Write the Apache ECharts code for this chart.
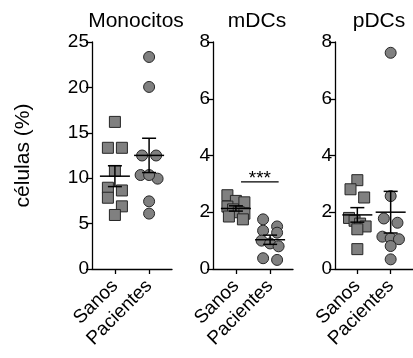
<!DOCTYPE html>
<html>
<head>
<meta charset="utf-8">
<script src="https://cdn.jsdelivr.net/npm/echarts@6/dist/echarts.min.js"></script>
<style>
html, body { margin: 0; padding: 0; background: #fff; }
#chart { width: 413px; height: 358px; }
</style>
</head>
<body>
<div id="chart"></div>
<script>
// 数据
const panelTitles = ['Monocitos', 'mDCs', 'pDCs'];
const groupNames = ['Sanos', 'Pacientes'];
const yMaxes = [25, 8, 8];
const ySteps = [5, 2, 2];

const monoSanos = [16.2, 13.35, 13.35, 10.8, 8.95, 8.65, 7.85, 6.9, 5.95];
const monoPacientes = [23.35, 20.05, 12.5, 12.5, 10.35, 9.95, 10.35, 7.45, 6.1];
const mdcSanos = [2.6, 2.4, 2.35, 2.2, 2.1, 2.0, 1.95, 1.85, 1.75];
const mdcPacientes = [1.75, 1.5, 1.35, 1.28, 1.0, 0.9, 0.8, 0.38, 0.32];
const pdcSanos = [3.13, 2.81, 2.52, 1.8, 1.7, 1.6, 1.5, 1.4, 0.7];
const pdcPacientes = [7.62, 2.57, 1.78, 1.63, 1.14, 1.08, 1.05, 0.81, 0.34];

const panelData = [
    [monoSanos, monoPacientes],
    [mdcSanos, mdcPacientes],
    [pdcSanos, pdcPacientes]
];

// 图形布局
const gridLefts = [92, 213, 335];
const gridTop = 42;
const gridH = 227;
const gridW = 80;
const xMin = 0.33, xMax = 2.67;
const dotSize = 11;
const font = 'Liberation Sans, Arial, sans-serif';

// 按行排列的散点（类似 Prism 的抖动），返回像素偏移
function rowOffsets(values, pxPerY) {
    const order = values.map((v, i) => i).sort((a, b) => values[b] - values[a]);
    const offs = new Array(values.length).fill(0);
    const rowH = 9;
    let row = [];
    const flush = () => {
        const n = row.length;
        const spacing = n <= 2 ? 14 : 17 / (n - 1);
        row.forEach((idx, j) => { offs[idx] = (j - (n - 1) / 2) * spacing; });
        row = [];
    };
    order.forEach(i => {
        if (row.length && (values[row[0]] - values[i]) * pxPerY > rowH) flush();
        row.push(i);
    });
    flush();
    return offs;
}

function meanSem(arr) {
    const n = arr.length;
    const m = arr.reduce((a, b) => a + b, 0) / n;
    const sd = Math.sqrt(arr.reduce((a, b) => a + (b - m) * (b - m), 0) / (n - 1));
    return [m, sd / Math.sqrt(n)];
}

function renderMean(params, api) {
    const x = api.value(0), m = api.value(1), s = api.value(2);
    const c = api.coord([x, m]);
    const t = api.coord([x, m + s]);
    const b = api.coord([x, m - s]);
    const st = { stroke: '#000', lineWidth: 1.5 };
    return {
        type: 'group',
        children: [
            { type: 'line', shape: { x1: c[0] - 15, y1: c[1], x2: c[0] + 15, y2: c[1] }, style: st },
            { type: 'line', shape: { x1: c[0], y1: t[1], x2: c[0], y2: b[1] }, style: st },
            { type: 'line', shape: { x1: c[0] - 7, y1: t[1], x2: c[0] + 7, y2: t[1] }, style: st },
            { type: 'line', shape: { x1: c[0] - 7, y1: b[1], x2: c[0] + 7, y2: b[1] }, style: st }
        ]
    };
}

function renderSig(params, api) {
    const a = api.coord([api.value(0), api.value(2)]);
    const b = api.coord([api.value(1), api.value(2)]);
    return {
        type: 'group',
        children: [
            { type: 'line', shape: { x1: a[0], y1: a[1], x2: b[0], y2: b[1] }, style: { stroke: '#000', lineWidth: 1.3 } },
            { type: 'text', style: { x: (a[0] + b[0]) / 2, y: a[1] + 6, text: '***', align: 'center', verticalAlign: 'bottom', fontSize: 19, fontFamily: font, fill: '#000' } }
        ]
    };
}

const grid = [], xAxis = [], yAxis = [], series = [], title = [];

panelData.forEach((groups, p) => {
    grid.push({ left: gridLefts[p], top: gridTop, width: gridW, height: gridH });
    title.push({
        text: panelTitles[p], left: gridLefts[p] + gridW / 2 - 1, top: 6, textAlign: 'center',
        textStyle: { fontSize: 21, fontWeight: 'normal', color: '#000', fontFamily: font }
    });
    xAxis.push({
        type: 'value', gridIndex: p, min: xMin, max: xMax,
        axisLine: { show: true, lineStyle: { color: '#000', width: 1.3 } },
        axisTick: { show: true, length: 5, customValues: [1, 2], lineStyle: { color: '#000', width: 1.3 } },
        axisLabel: {
            customValues: [1, 2], rotate: 45, margin: 14, fontSize: 19, color: '#000', fontFamily: font,
            formatter: v => groupNames[Math.round(v) - 1]
        },
        splitLine: { show: false }
    });
    yAxis.push({
        type: 'value', gridIndex: p, min: 0, max: yMaxes[p], interval: ySteps[p],
        name: p === 0 ? 'células (%)' : '', nameLocation: 'middle', nameGap: 58,
        nameTextStyle: { fontSize: 21, color: '#000', fontFamily: font },
        axisLine: { show: true, lineStyle: { color: '#000', width: 1.3 } },
        axisTick: { show: true, length: 6, lineStyle: { color: '#000', width: 1.3 } },
        axisLabel: { fontSize: 19, color: '#000', margin: 3, fontFamily: font },
        splitLine: { show: false }
    });

    const pxPerY = gridH / yMaxes[p];
    const pxPerX = gridW / (xMax - xMin);
    groups.forEach((vals, g) => {
        const offs = rowOffsets(vals, pxPerY);
        series.push({
            type: 'scatter', xAxisIndex: p, yAxisIndex: p,
            symbol: g === 0 ? 'rect' : 'circle', symbolSize: dotSize,
            itemStyle: { color: '#808080', borderColor: '#262626', borderWidth: 1, opacity: 1 },
            data: vals.map((v, i) => [g + 1 + offs[i] / pxPerX, v]),
            z: 2
        });
        const ms = meanSem(vals);
        series.push({
            type: 'custom', xAxisIndex: p, yAxisIndex: p, renderItem: renderMean,
            data: [[g + 1, ms[0], ms[1]]], z: 3, silent: true
        });
    });
});

// mDCs 显著性标记
series.push({
    type: 'custom', xAxisIndex: 1, yAxisIndex: 1, renderItem: renderSig,
    encode: { x: [0, 1], y: 2 }, data: [[1.15, 2.25, 3.07]], z: 3
});

const myChart = echarts.init(document.getElementById('chart'));
myChart.setOption({
    animation: false,
    textStyle: { fontFamily: font },
    title: title,
    grid: grid,
    xAxis: xAxis,
    yAxis: yAxis,
    series: series
});
</script>
</body>
</html>
